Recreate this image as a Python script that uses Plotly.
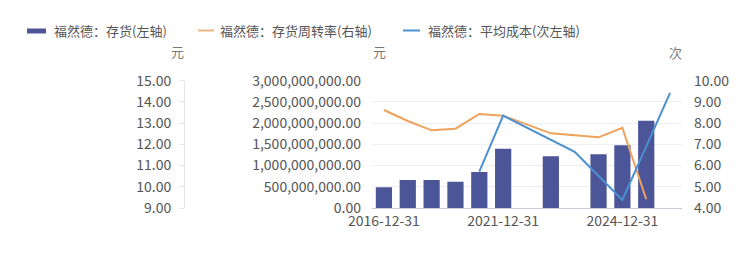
import plotly.graph_objects as go

categories = ["2016-12-31", "2017-12-31", "2018-12-31", "2019-12-31", "2020-12-31",
              "2021-12-31", "2022-06-30", "2022-12-31", "2023-06-30", "2023-12-31",
              "2024-12-31", "2025-06-30", "2025-09-30"]
inventory = [0.487e9, 0.659e9, 0.659e9, 0.620e9, 0.848e9, 1.397e9, None, 1.217e9, None,
             1.264e9, 1.476e9, 2.057e9, None]
turnover = [8.62, 8.10, 7.66, 7.74, 8.43, 8.35, None, 7.52, None, 7.33, 7.78, 4.41, None]
avg_cost = [None, None, None, None, 10.71, 13.35, None, None, 11.65, None, 9.38, None, 14.43]
tick_labels = ["2016-12-31", "2021-12-31", "2024-12-31"]
tick_idx = [0, 5, 10]

W, H = 754, 276
FONT = "Noto Sans CJK SC"
TICK_COLOR = "#555555"

def px(x):
    return x / W

def py(y):
    return 1 - y / H

fig = go.Figure()
fig.add_trace(go.Bar(x=categories, y=inventory, yaxis="y", name="福然德：存货(左轴)",
                     marker=dict(color="#4C5598", line=dict(width=0))))
fig.add_trace(go.Scatter(x=categories, y=turnover, yaxis="y2", mode="lines",
                         name="福然德：存货周转率(右轴)", connectgaps=True,
                         line=dict(color="#EFA25B", width=2)))
fig.add_trace(go.Scatter(x=categories, y=avg_cost, yaxis="y3", mode="lines",
                         name="福然德：平均成本(次左轴)", connectgaps=True,
                         line=dict(color="#4A90D2", width=2)))

x0, x1 = 372, 682
y_top, y_bot = 80.7, 208

fig.update_layout(
    width=W, height=H,
    margin=dict(l=0, r=0, t=0, b=0, autoexpand=False),
    paper_bgcolor="white", plot_bgcolor="white",
    showlegend=False,
    bargap=0.32,
    font=dict(family=FONT, size=14, color=TICK_COLOR),
    xaxis=dict(domain=[px(x0), px(x1)], type="category", automargin=False,
               categoryorder="array", categoryarray=categories,
               range=[-0.5, len(categories) - 0.5],
               tickmode="array", tickvals=[categories[i] for i in tick_idx],
               ticktext=tick_labels, showline=True, linecolor="#C8CAD8", linewidth=1,
               ticks="", showgrid=False, zeroline=False,
               tickfont=dict(size=14, color=TICK_COLOR)),
    yaxis=dict(domain=[py(y_bot), py(y_top)], range=[0, 3e9], dtick=5e8,
               automargin=False,
               tickformat=",.2f", showgrid=True, gridcolor="#EFEFF3", gridwidth=1,
               zeroline=False, showline=False, ticks="", ticklabelstandoff=10,
               tickfont=dict(size=14, color=TICK_COLOR)),
    yaxis2=dict(overlaying="y", side="right", anchor="x", range=[4, 10], dtick=1,
                automargin=False,
                tickformat=".2f", showgrid=False, zeroline=False, showline=False,
                ticks="", ticklabelstandoff=11,
                tickfont=dict(size=14, color=TICK_COLOR)),
    yaxis3=dict(overlaying="y", side="left", anchor="free", position=px(184),
                automargin=False,
                range=[9, 15], dtick=1, tickformat=".2f", showgrid=False,
                zeroline=False, showline=True, linecolor="#E4E4E8", linewidth=1,
                ticks="outside", ticklen=4, tickcolor="#E4E4E8", ticklabelstandoff=6,
                tickfont=dict(size=14, color=TICK_COLOR)),
)

# axis name labels
for txt, xc, yc in [("元", 177.5, 52), ("元", 379.5, 52), ("次", 675, 53)]:
    fig.add_annotation(x=px(xc), y=py(yc), xref="paper", yref="paper", text=txt,
                       showarrow=False, xanchor="center", yanchor="middle",
                       font=dict(family=FONT, size=13, color="#777777"))

# legend
fig.add_shape(type="rect", xref="paper", yref="paper", x0=px(27), x1=px(46),
              y0=py(33.5), y1=py(28.5), fillcolor="#4C5598", line=dict(width=0))
fig.add_shape(type="line", xref="paper", yref="paper", x0=px(198), x1=px(214),
              y0=py(30.5), y1=py(30.5), line=dict(color="#E9B47E", width=2))
fig.add_shape(type="line", xref="paper", yref="paper", x0=px(403), x1=px(420),
              y0=py(30.5), y1=py(30.5), line=dict(color="#4A90D2", width=2))
for txt, xl in [("福然德：存货(左轴)", 51.5), ("福然德：存货周转率(右轴)", 218),
                ("福然德：平均成本(次左轴)", 425.5)]:
    fig.add_annotation(x=px(xl), y=py(30.5), xref="paper", yref="paper", text=txt,
                       showarrow=False, xanchor="left", yanchor="middle",
                       font=dict(family=FONT, size=13, color="#555555"))

fig.write_html("out.html")
